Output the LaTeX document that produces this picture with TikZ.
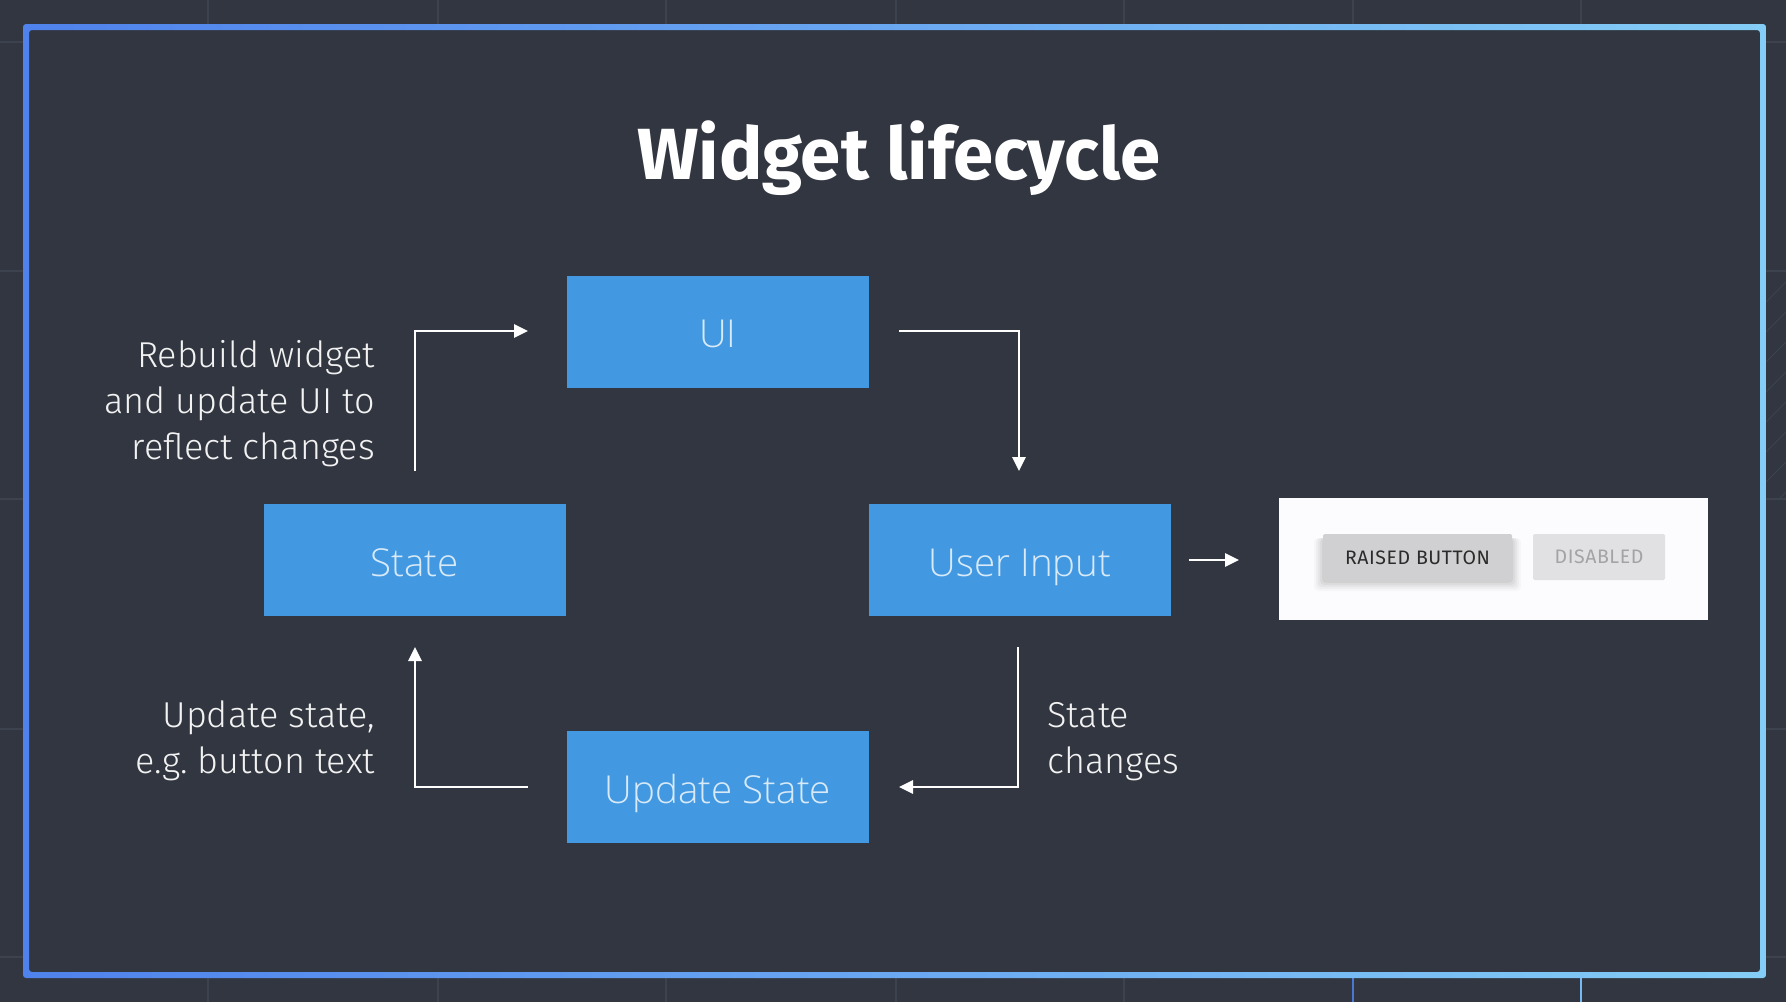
\documentclass[tikz,border=0pt]{standalone}
\usepackage{fontspec}
\setmainfont{Fira Sans}
\newfontfamily\labelfont{Fira Sans Light}
\newfontfamily\boxfont{Open Sans Light}
\newfontfamily\titlefont{Fira Sans Bold}
\newfontfamily\btnfont{Fira Sans}[LetterSpace=3]
\usetikzlibrary{arrows.meta}
\definecolor{bgc}{HTML}{313640}
\definecolor{gridc}{HTML}{3D434E}
\definecolor{boxblue}{HTML}{4299E1}
\definecolor{boxtext}{HTML}{D8EAF8}
\definecolor{labelc}{HTML}{F2F2F2}
\definecolor{frameL}{HTML}{4F82EC}
\definecolor{frameR}{HTML}{84CDF6}
\definecolor{panelc}{HTML}{FCFBFD}
\definecolor{raisedc}{HTML}{D0CFD1}
\definecolor{disabledc}{HTML}{E1E0E2}
\definecolor{raisedtext}{HTML}{2B2B2B}
\definecolor{disabledtext}{HTML}{A3A2A5}
\tikzset{
  stagebox/.style={rectangle, fill=boxblue, minimum width=302pt, minimum height=112pt,
    inner sep=0pt, text height=32pt, text depth=0pt, text=boxtext,
    font=\boxfont\fontsize{38.5}{42}\selectfont},
  sidelabel/.style={text=labelc, inner sep=0pt, font=\labelfont\fontsize{36}{46}\selectfont},
  flow/.style={draw=white, line width=2.8pt, -{Triangle[length=14pt,width=13pt]}},
  gridline/.style={draw=gridc, line width=1.2pt},
  btntext/.style={inner sep=0pt, font=\btnfont\fontsize{19.5}{22}\selectfont}
}
\begin{document}
\begin{tikzpicture}[x=1pt,y=-1pt]
\fill[bgc] (0,0) rectangle (1786,1002);
\useasboundingbox (0,0) rectangle (1786,1002);
% background grid (visible outside the frame)
\foreach \gx in {208,438,666,896,1124,1353,1581}{
  \draw[gridline] (\gx,0) -- (\gx,1002);
}
\foreach \gy in {42,271,499,729,957}{
  \draw[gridline] (0,\gy) -- (1786,\gy);
}
\draw[draw=frameL!85!bgc, line width=1.6pt] (1353,978) -- (1353,1002);
\draw[draw=frameR!75!frameL, line width=1.6pt] (1581,978) -- (1581,1002);
% hatching on the right
\begin{scope}
  \clip (1766,271) rectangle (1786,499);
  \foreach \hy in {250,280,...,520}{
    \draw[gridline, line width=1pt] (1766,\hy+22) -- (1788,\hy);
  }
\end{scope}
% frame
\fill[bgc] (23,24) rectangle (1766,978);
\shade[left color=frameL, right color=frameR, even odd rule, rounded corners=3pt]
  (23,24) rectangle (1766,978) (29,30) rectangle (1760,972);
% title
\node[anchor=base, text=white, inner sep=0pt, font=\titlefont\fontsize{72.5}{80}\selectfont]
  (title) at (899,179) {Widget lifecycle};
% stages
\node[stagebox] (ui) at (718,331.5) {UI};
\node[stagebox] (state) at (414.5,560) {State};
\node[stagebox] (input) at (1020,560) {User Input};
\node[stagebox] (update) at (718,787) {Update State};
% labels (anchor base = baseline of last line)
\node[sidelabel, anchor=base east, align=right] (rebuild) at (375,459)
  {Rebuild widget\\and update UI to\\reflect changes};
\node[sidelabel, anchor=base east, align=right] (updlabel) at (375,773)
  {Update state,\\e.g.\ button text};
\node[sidelabel, anchor=base west, align=left] (chglabel) at (1047,773)
  {State\\changes};
% button panel
\node[rectangle, fill=panelc, minimum width=429pt, minimum height=122pt, inner sep=0pt]
  (panel) at (1493.5,559) {};
\foreach \s/\o in {9/0.025,7/0.03,5/0.035,3/0.04,1/0.045}{
  \fill[black, opacity=\o, rounded corners=4pt] (1323-\s,534+4) rectangle (1512+\s,581+\s+1);
}
\node[rectangle, fill=raisedc, minimum width=189pt, minimum height=47pt, inner sep=0pt,
  rounded corners=1.5pt] (raised) at (1417.5,557.5) {};
\node[btntext, text=raisedtext] (raisedlbl) at (raised.center) {RAISED BUTTON};
\node[rectangle, fill=disabledc, minimum width=132pt, minimum height=46pt, inner sep=0pt,
  rounded corners=1.5pt] (disabled) at (1599,557) {};
\node[btntext, text=disabledtext] (disabledlbl) at (disabled.center) {DISABLED};
% connector end points
\coordinate (a1s) at (415,471);
\coordinate (a1e) at (528,331);
\coordinate (a2s) at (899,331);
\coordinate (a2e) at (1019,471);
\coordinate (a3s) at (1189,560);
\coordinate (a3e) at (1239,560);
\coordinate (a4s) at (1018,647);
\coordinate (a4e) at (899,787);
\coordinate (a5s) at (528,787);
\coordinate (a5e) at (415,647);
\draw[flow] (a1s) |- (a1e);
\draw[flow] (a2s) -| (a2e);
\draw[flow] (a3s) -- (a3e);
\draw[flow] (a4s) |- (a4e);
\draw[flow] (a5s) -| (a5e);
\end{tikzpicture}
\end{document}
